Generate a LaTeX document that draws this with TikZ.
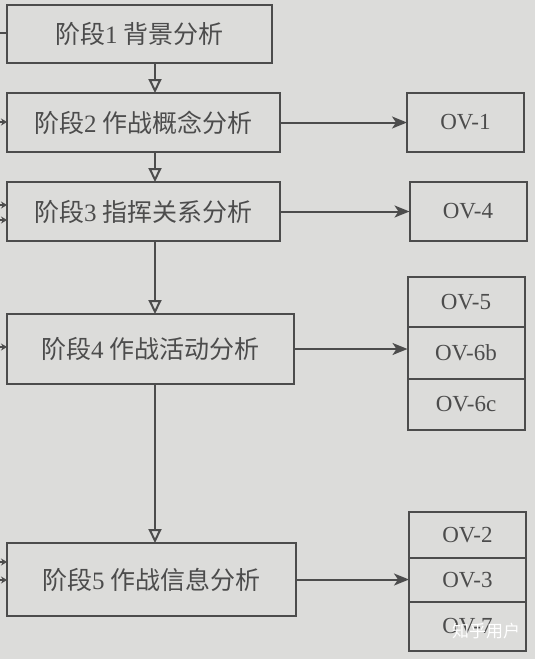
\documentclass[tikz,border=0pt]{standalone}
\usepackage{fontspec}
\setmainfont{Liberation Serif}
\newfontfamily\cjk{Noto Sans CJK SC}
\usetikzlibrary{arrows.meta,positioning}

\definecolor{paper}{HTML}{DCDCDA}
\definecolor{ink}{HTML}{4C4C4C}

\tikzset{
  stage/.style={draw=ink, line width=2pt, text=ink, font=\fontsize{25}{29}\selectfont, inner sep=0pt, outer sep=0pt},
  ovbox/.style={draw=ink, line width=2pt, text=ink, font=\fontsize{23}{27}\selectfont, minimum width=117pt, inner sep=0pt, outer sep=0pt},
  down/.style={draw=ink, line width=2pt, -{Triangle[open,length=14pt,width=13pt]}},
  feed/.style={draw=ink, line width=2pt, -{Stealth[length=15pt,width=12pt,inset=4pt]}},
  stub/.style={draw=ink, line width=2pt, -{Stealth[length=6pt,width=7pt]}}
}

\newcommand{\stagetext}[2]{{\cjk 阶段}#1 {\cjk #2}}

\begin{document}
\begin{tikzpicture}[x=1pt,y=-1pt]
\fill[paper] (0,0) rectangle (535,659);
\useasboundingbox (0,0) rectangle (535,659);

% stages
\node[stage, minimum width=265pt, minimum height=58pt] (s1) at (139.5,34) {\stagetext{1}{背景分析}};
\node[stage, minimum width=273pt, minimum height=59pt] (s2) at (143.5,122.5) {\stagetext{2}{作战概念分析}};
\node[stage, minimum width=273pt, minimum height=59pt] (s3) at (143.5,211.5) {\stagetext{3}{指挥关系分析}};
\node[stage, minimum width=287pt, minimum height=70pt] (s4) at (150.5,349) {\stagetext{4}{作战活动分析}};
\node[stage, minimum width=289pt, minimum height=73pt] (s5) at (151.5,579.5) {\stagetext{5}{作战信息分析}};

% products
\node[ovbox, minimum height=59pt] (ov1) at (465.5,122.5) {OV-1};
\node[ovbox, minimum height=59pt] (ov4) at (468,211.5) {OV-4};
\node[ovbox, minimum height=50pt, anchor=north] (ov5) at (466,277) {OV-5};
\node[ovbox, minimum height=52pt, below=0pt of ov5] (ov6b) {OV-6b};
\node[ovbox, minimum height=51pt, below=0pt of ov6b] (ov6c) {OV-6c};
\node[ovbox, minimum height=46pt, anchor=north] (ov2) at (467.5,512) {OV-2};
\node[ovbox, minimum height=44pt, below=0pt of ov2] (ov3) {OV-3};
\node[ovbox, minimum height=49pt, below=0pt of ov3] (ov7) {OV-7};

% stage to stage
\coordinate (spine) at (155,0);
\draw[down] (s1.south -| spine) -- (s2.north -| spine);
\draw[down] (s2.south -| spine) -- (s3.north -| spine);
\draw[down] (s3.south -| spine) -- (s4.north -| spine);
\draw[down] (s4.south -| spine) -- (s5.north -| spine);

% stage to products
\draw[feed] (s2.east) -- (ov1.west |- s2.east);
\draw[feed] (s3.east) -- (ov4.west |- s3.east);
\draw[feed] (s4.east) -- (ov6b.west |- s4.east);
\draw[feed] (s5.east) -- (ov3.west |- s5.east);

% cut off inputs at the left edge
\coordinate (in1) at (0,33);
\coordinate (in2) at (0,122);
\coordinate (in3a) at (0,205);
\coordinate (in3b) at (0,220);
\coordinate (in4) at (0,347);
\coordinate (in5a) at (0,562);
\coordinate (in5b) at (0,580);
\draw[ink, line width=2pt] (in1) -- (in1 -| s1.west);
\draw[stub] (in2) -- (in2 -| s2.west);
\draw[stub] (in3a) -- (in3a -| s3.west);
\draw[stub] (in3b) -- (in3b -| s3.west);
\draw[stub] (in4) -- (in4 -| s4.west);
\draw[stub] (in5a) -- (in5a -| s5.west);
\draw[stub] (in5b) -- (in5b -| s5.west);

\node[text=white, font=\cjk\fontsize{17}{17}\selectfont] (mark) at (486,631) {知乎用户};
\end{tikzpicture}
\end{document}
